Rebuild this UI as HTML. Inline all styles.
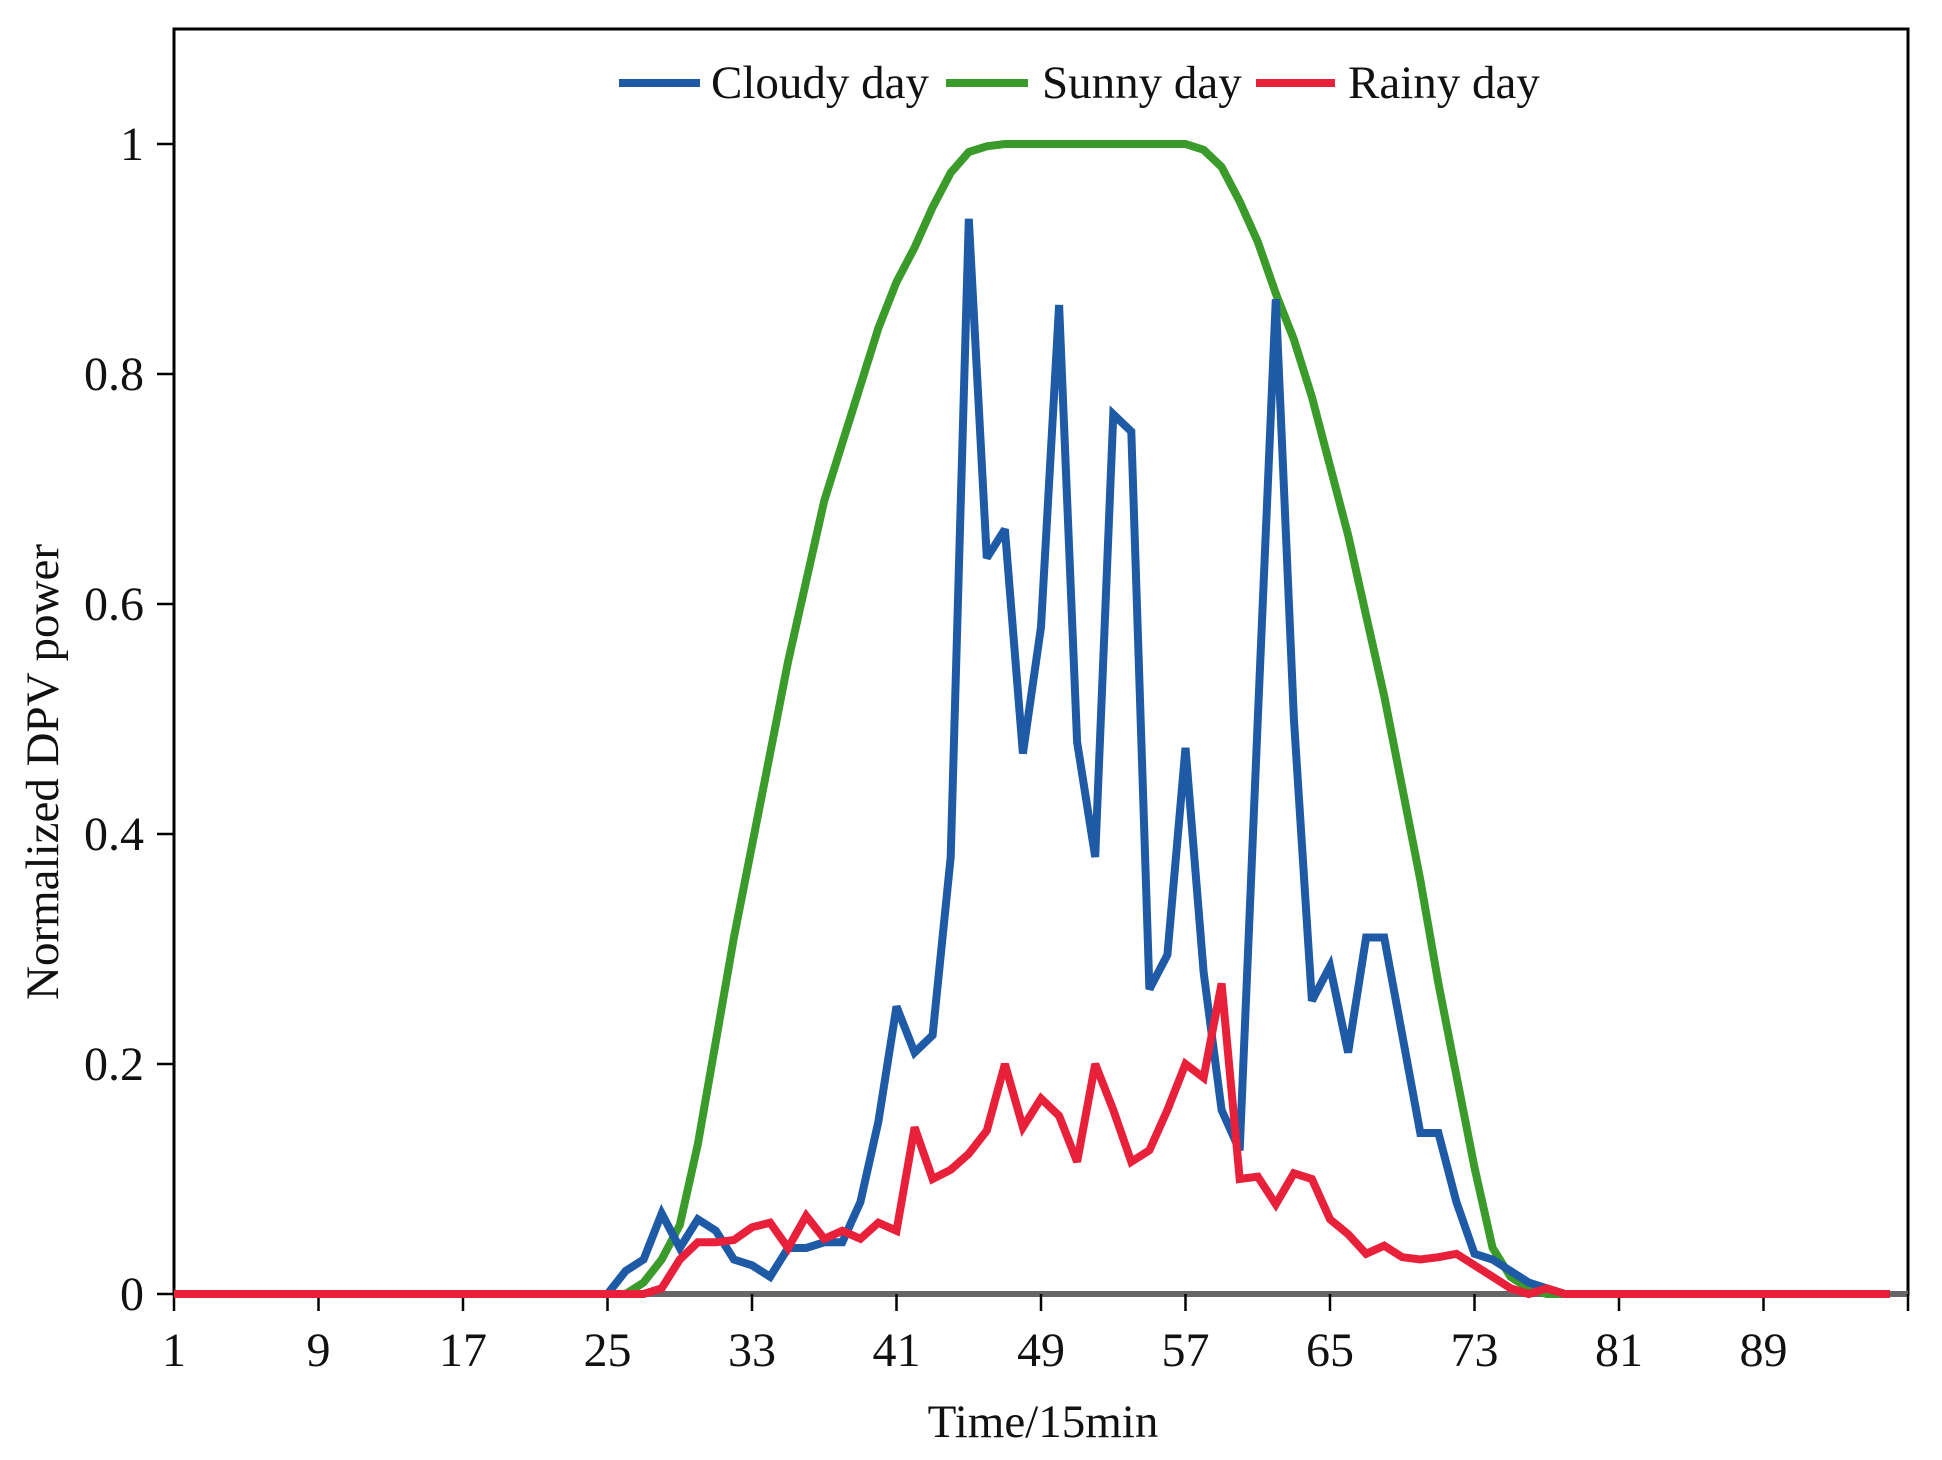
<!DOCTYPE html>
<html><head><meta charset="utf-8">
<style>
html,body{margin:0;padding:0;background:#fff;}
svg{display:block;}
text{font-family:"Liberation Serif",serif;fill:#111;}
</style></head>
<body>
<svg id="chart" width="1942" height="1460" viewBox="0 0 1942 1460" xmlns="http://www.w3.org/2000/svg">
<rect x="0" y="0" width="1942" height="1460" fill="#fff"/>
<g id="axes"></g>
<g id="series"></g>
<g id="legend"></g>
</svg>
<script>
const xTicks = [1,9,17,25,33,41,49,57,65,73,81,89];
const yTicks = [0,0.2,0.4,0.6,0.8,1];
const yTickLabels = ["0","0.2","0.4","0.6","0.8","1"];
const seriesNames = ["Cloudy day","Sunny day","Rainy day"];
const cloudy = [0,0,0,0,0,0,0,0,0,0,0,0,0,0,0,0,0,0,0,0,0,0,0,0,0,
0.02,0.03,0.07,0.04,0.065,0.055,0.03,0.025,0.015,0.04,0.04,0.045,0.045,0.08,0.15,
0.25,0.21,0.225,0.38,0.935,0.64,0.665,0.47,0.58,0.86,0.48,0.38,0.765,0.75,0.265,
0.295,0.475,0.28,0.16,0.125,0.5,0.865,0.5,0.255,0.285,0.21,0.31,0.31,0.225,0.14,
0.14,0.08,0.035,0.03,0.02,0.01,0.005,0,0,0,0,0,0,0,0,0,0,0,0,0,0,0,0,0,0,0];
const sunny = [0,0,0,0,0,0,0,0,0,0,0,0,0,0,0,0,0,0,0,0,0,0,0,0,0,
0,0.01,0.03,0.06,0.13,0.22,0.31,0.39,0.47,0.55,0.62,0.69,0.74,0.79,0.84,
0.88,0.91,0.945,0.975,0.993,0.998,1,1,1,1,1,1,1,1,1,
1,1,0.995,0.98,0.95,0.915,0.87,0.83,0.78,0.72,0.66,0.59,0.52,0.44,0.36,
0.27,0.19,0.11,0.04,0.015,0.005,0,0,0,0,0,0,0,0,0,0,0,0,0,0,0,0,0,0,0,0];
const rainy = [0,0,0,0,0,0,0,0,0,0,0,0,0,0,0,0,0,0,0,0,0,0,0,0,0,
0,0,0.005,0.03,0.045,0.045,0.047,0.058,0.062,0.04,0.068,0.048,0.055,0.048,0.062,
0.055,0.145,0.1,0.108,0.122,0.142,0.2,0.145,0.17,0.155,0.115,0.2,0.16,0.115,0.125,
0.16,0.2,0.188,0.27,0.1,0.102,0.078,0.105,0.1,0.065,0.052,0.035,0.042,0.032,0.03,
0.032,0.035,0.025,0.015,0.005,0,0.005,0,0,0,0,0,0,0,0,0,0,0,0,0,0,0,0,0,0,0];

const NS="http://www.w3.org/2000/svg";
const L=174,R=1908,T=29,B=1294;
const xs = v => L + (v-1)*(R-L)/96;
const ys = v => B - v*(B-144);
function mk(tag,attrs,parent){const e=document.createElementNS(NS,tag);for(const k in attrs)e.setAttribute(k,attrs[k]);parent.appendChild(e);return e;}
const axes=document.getElementById('axes');
const frame=mk('rect',{x:L,y:T,width:R-L,height:B-T,fill:'none',stroke:'#000','stroke-width':3},axes);


const zl=mk('line',{x1:L,x2:R,y1:B,y2:B,stroke:'#666','stroke-width':6},axes);


xTicks.forEach(t=>{
  const tk=mk('line',{x1:xs(t),x2:xs(t),y1:B,y2:B+17,stroke:'#000','stroke-width':2.5},axes);
  
  
  const tx=mk('text',{x:xs(t),y:1366,'text-anchor':'middle','font-size':48},axes);
  tx.textContent=String(t);
  
  
});
const rt=mk('line',{x1:R,x2:R,y1:B,y2:B+17,stroke:'#000','stroke-width':2.5},axes);


yTicks.forEach((t,i)=>{
  const tk=mk('line',{x1:L-17,x2:L,y1:ys(t),y2:ys(t),stroke:'#000','stroke-width':2.5},axes);
  
  
  const tx=mk('text',{x:144,y:ys(t)+16,'text-anchor':'end','font-size':48},axes);
  tx.textContent=yTickLabels[i];
  
  
});
const xt=mk('text',{x:1043,y:1437,'text-anchor':'middle','font-size':47},axes);
xt.textContent='Time/15min';


const yt=mk('text',{x:0,y:0,'text-anchor':'middle','font-size':47,transform:'translate(58,772) rotate(-90)'},axes);
yt.textContent='Normalized DPV power';



const seriesG=document.getElementById('series');
const data=[sunny,cloudy,rainy];
const colors=['#3a9a2a','#1f5aa6','#e8203a'];
const names=['sunny-day-line','cloudy-day-line','rainy-day-line'];
data.forEach((arr,si)=>{
  const pts=arr.map((v,i)=>xs(i+1).toFixed(1)+','+ys(v).toFixed(1)).join(' ');
  const pl=mk('polyline',{points:pts,fill:'none',stroke:colors[si],'stroke-width':8,'stroke-linejoin':'miter','stroke-miterlimit':3},seriesG);
  
  
});

const lg=document.getElementById('legend');
const legX=[[619,700,711],[946,1028,1042],[1256,1335,1348]];
const legC=['#1f5aa6','#3a9a2a','#e8203a'];
seriesNames.forEach((n,i)=>{
  const g=mk('g',{},lg);
  
  
  mk('line',{x1:legX[i][0],x2:legX[i][1],y1:83,y2:83,stroke:legC[i],'stroke-width':8},g);
  const tx=mk('text',{x:legX[i][2],y:98,'font-size':47},g);
  tx.textContent=n;
});
</script>
</body></html>
